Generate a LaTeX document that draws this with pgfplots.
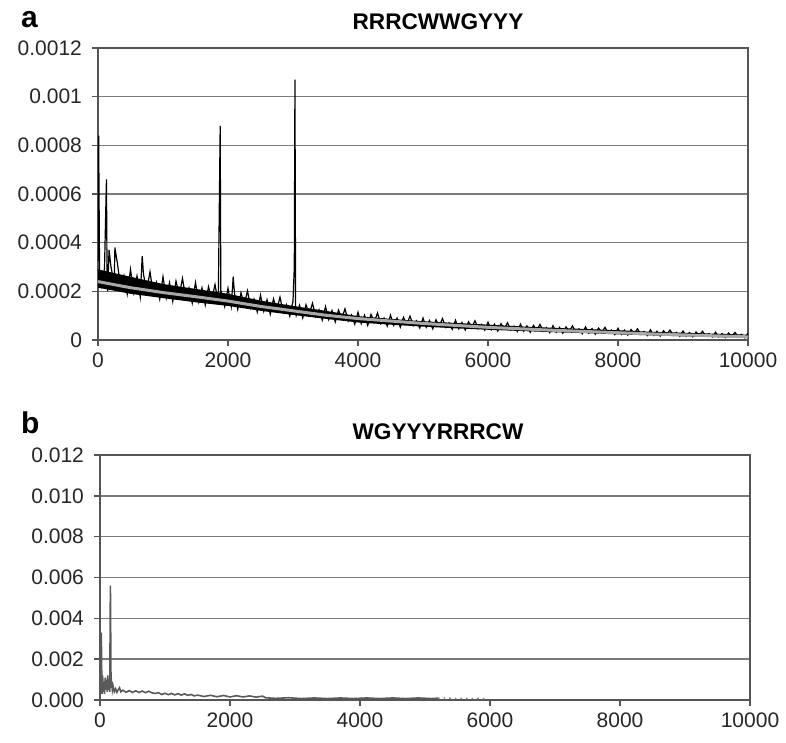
\documentclass[border=0pt]{standalone}
\usepackage{fontspec}
\setmainfont{Liberation Sans}
\usepackage{pgfplots}
\pgfplotsset{compat=1.18}
\definecolor{gridc}{HTML}{7A7A7A}
\definecolor{axc}{HTML}{555555}
\definecolor{trend}{HTML}{A8A8A8}
\definecolor{serb}{HTML}{5A5A5A}

\pgfplotsset{panel/.style={
  scale only axis, width=325pt,
  xmin=0, xmax=10000, ymin=0, ymax=12,
  xtick={0,2000,4000,6000,8000,10000},
  xticklabels={0,2000,4000,6000,8000,10000},
  scaled x ticks=false, scaled y ticks=false,
  ytick={0,2,4,6,8,10,12},
  xtick pos=bottom, ytick pos=left, tick align=outside,
  major tick length=3pt,
  tick style={axc, line width=0.8pt},
  axis line style={axc, line width=0.8pt},
  ymajorgrids, grid style={gridc, line width=0.8pt},
  ticklabel style={font=\fontsize{10.5}{12}\selectfont, text=black!85},
  yticklabel style={xshift=-1.5pt},
}}

\begin{document}
\begin{tikzpicture}
\useasboundingbox (-49pt,-201.5pt) rectangle (344pt,170pt);

\node[anchor=base west, font=\fontsize{15}{17}\bfseries\selectfont] at (-42pt,156pt) {a};
\node[anchor=base, font=\fontsize{11.3}{13}\bfseries\selectfont] at (170pt,155pt) {RRRCWWGYYY};
\node[anchor=base west, font=\fontsize{15}{17}\bfseries\selectfont] at (-42pt,-47pt) {b};
\node[anchor=base, font=\fontsize{11.3}{13}\bfseries\selectfont] at (170pt,-49.5pt) {WGYYYRRRCW};

% panel a, values in units of 1e-4
\begin{axis}[panel, height=146pt,
  yticklabels={0,0.0002,0.0004,0.0006,0.0008,0.001,0.0012}]
% dense core of the noisy band: upper edge then lower edge back
\addplot[fill=black, draw=none] coordinates {
(0,2.9)(500,2.6)(1000,2.3)(1500,2.1)(2000,1.9)(2500,1.62)(3000,1.4)(3500,1.2)(4000,0.98)(4500,0.87)(5000,0.77)
(5500,0.7)(6000,0.63)(6500,0.56)(7000,0.5)(7500,0.45)(8000,0.4)(8500,0.34)(9000,0.3)(9500,0.26)(10000,0.22)
(10000,0.08)(9500,0.12)(9000,0.15)(8500,0.19)(8000,0.23)(7500,0.28)(7000,0.32)(6500,0.37)(6000,0.42)(5500,0.48)
(5000,0.55)(4500,0.63)(4000,0.72)(3500,0.87)(3000,1.03)(2500,1.2)(2000,1.4)(1500,1.55)(1000,1.72)(500,1.9)(0,2.15)
} \closedcycle;
\addplot[black, line width=0.6pt] coordinates {
(0,3.24)(10,8.4)(25,2.4)(50,2.19)(100,2.94)(130,6.6)(140,2.5)(150,2.01)(170,3.7)(200,3.0)(250,2.31)(260,3.8)(300,3.12)(350,2.13)(400,2.64)(450,1.89)
(500,2.9)(550,1.94)(600,2.63)(650,1.78)(680,3.45)(700,2.69)(750,2.06)(800,2.8)(850,1.9)(900,2.37)(950,1.68)
(1000,2.6)(1050,1.73)(1100,2.36)(1150,1.59)(1200,2.42)(1250,1.85)(1300,2.53)(1350,1.71)(1400,2.14)(1450,1.52)
(1500,2.36)(1550,1.57)(1600,2.14)(1650,1.44)(1700,2.19)(1750,1.67)(1800,2.28)(1850,1.54)(1880,8.8)(1890,1.7)(1900,1.93)(1950,1.37)
(2000,2.13)(2050,1.39)(2080,2.6)(2100,1.91)(2150,1.26)(2200,1.94)(2250,1.46)(2300,2.02)(2350,1.32)(2400,1.68)(2450,1.15)
(2500,1.84)(2550,1.18)(2600,1.65)(2650,1.06)(2700,1.69)(2750,1.25)(2800,1.76)(2850,1.13)(2900,1.45)(2950,0.98)
(3000,1.6)(3020,3.0)(3030,10.7)(3040,1.3)(3050,1.02)(3100,1.43)(3150,0.91)(3200,1.45)(3250,1.07)(3300,1.51)(3350,0.96)(3400,1.24)(3450,0.82)
(3500,1.37)(3550,0.84)(3600,1.21)(3650,0.74)(3700,1.23)(3750,0.88)(3800,1.28)(3850,0.78)(3900,1.03)(3950,0.65)
(4000,1.14)(4050,0.67)(4100,1.02)(4150,0.6)(4200,1.05)(4250,0.74)(4300,1.11)(4350,0.67)(4400,0.9)(4450,0.57)
(4500,1.02)(4550,0.6)(4600,0.9)(4650,0.53)(4700,0.93)(4750,0.65)(4800,0.98)(4850,0.59)(4900,0.79)(4950,0.49)
(5000,0.9)(5050,0.52)(5100,0.8)(5150,0.46)(5200,0.83)(5250,0.58)(5300,0.88)(5350,0.52)(5400,0.71)(5450,0.44)
(5500,0.81)(5550,0.46)(5600,0.72)(5650,0.41)(5700,0.75)(5750,0.52)(5800,0.79)(5850,0.47)(5900,0.64)(5950,0.4)
(6000,0.73)(6050,0.42)(6100,0.65)(6150,0.37)(6200,0.67)(6250,0.46)(6300,0.71)(6350,0.41)(6400,0.57)(6450,0.35)
(6500,0.65)(6550,0.36)(6600,0.58)(6650,0.32)(6700,0.6)(6750,0.41)(6800,0.64)(6850,0.36)(6900,0.51)(6950,0.3)
(7000,0.59)(7050,0.32)(7100,0.52)(7150,0.28)(7200,0.54)(7250,0.36)(7300,0.58)(7350,0.32)(7400,0.46)(7450,0.26)
(7500,0.54)(7550,0.28)(7600,0.47)(7650,0.24)(7700,0.49)(7750,0.32)(7800,0.52)(7850,0.28)(7900,0.41)(7950,0.22)
(8000,0.48)(8050,0.23)(8100,0.41)(8150,0.2)(8200,0.43)(8250,0.27)(8300,0.46)(8350,0.23)(8400,0.35)(8450,0.18)
(8500,0.42)(8550,0.19)(8600,0.36)(8650,0.16)(8700,0.38)(8750,0.23)(8800,0.41)(8850,0.19)(8900,0.31)(8950,0.15)
(9000,0.37)(9050,0.16)(9100,0.31)(9150,0.13)(9200,0.33)(9250,0.19)(9300,0.36)(9350,0.16)(9400,0.26)(9450,0.12)
(9500,0.32)(9550,0.13)(9600,0.27)(9650,0.1)(9700,0.29)(9750,0.16)(9800,0.31)(9850,0.13)(9900,0.23)(9950,0.09)(10000,0.28)
};
\addplot[trend, line width=1.5pt] coordinates {
(0,2.4)(500,2.15)(1000,1.95)(1500,1.78)(2000,1.6)(2500,1.38)(3000,1.2)(3500,1.02)(4000,0.88)(4500,0.78)(5000,0.68)
(5500,0.6)(6000,0.52)(6500,0.46)(7000,0.4)(7500,0.35)(8000,0.3)(8500,0.25)(9000,0.21)(9500,0.17)(10000,0.13)
};
\end{axis}

% panel b, values in units of 1e-3
\begin{axis}[panel, height=122.5pt, at={(1pt,-180pt)},
  yticklabels={0.000,0.002,0.004,0.006,0.008,0.010,0.012}]
\addplot[serb, line width=0.8pt] coordinates {
(0,0.15)(10,0.6)(20,3.3)(30,0.3)(40,1.2)(50,0.4)(60,0.9)(70,0.3)(80,1.1)(90,0.5)(100,1.0)(110,0.4)(120,1.2)(130,0.5)(140,0.9)(150,0.4)(160,5.6)(170,0.6)(180,0.8)(190,0.5)(200,0.7)
(220,0.4)(240,0.55)(260,0.38)(280,0.5)(300,0.6)(320,0.4)(350,0.48)(400,0.38)(450,0.46)(500,0.37)(550,0.45)(600,0.37)(650,0.44)(700,0.36)(750,0.43)(800,0.35)
(850,0.32)(900,0.36)(950,0.27)(1000,0.33)(1050,0.26)(1100,0.32)(1150,0.25)(1200,0.31)(1250,0.24)(1300,0.3)(1350,0.23)(1400,0.27)
(1450,0.2)(1500,0.24)(1600,0.17)(1700,0.23)(1800,0.16)(1900,0.22)(2000,0.15)(2100,0.21)(2200,0.15)(2300,0.2)(2400,0.14)(2500,0.19)
(2550,0.11)(2700,0.08)(2900,0.11)(3100,0.07)(3300,0.1)(3500,0.07)(3700,0.1)(3900,0.07)(4100,0.1)(4300,0.07)(4500,0.1)(4700,0.07)(4900,0.1)(5100,0.07)(5200,0.09)
};
\addplot[serb!70, line width=0.8pt, dotted] coordinates {(5200,0.09)(5600,0.08)(5950,0.07)};
\end{axis}
\end{tikzpicture}
\end{document}
